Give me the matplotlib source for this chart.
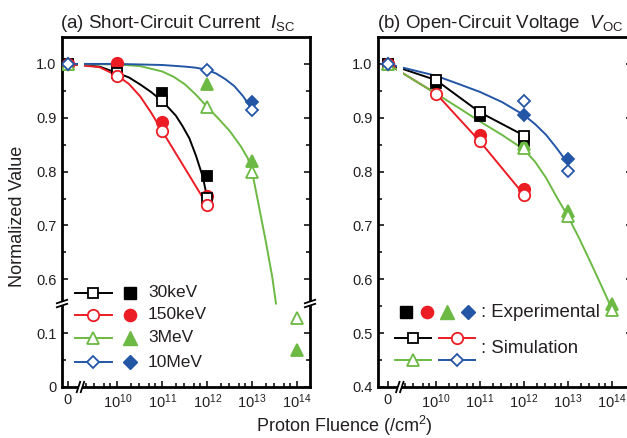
"""
Normalized Isc / Voc vs proton fluence, with broken axes.
"""
import numpy as np
import matplotlib
matplotlib.use('Agg')
import matplotlib.pyplot as plt
import matplotlib.transforms as mtransforms
from matplotlib.patches import Polygon
from matplotlib.ticker import FixedLocator, FixedFormatter

plt.rcParams['font.family'] = ['Liberation Sans', 'DejaVu Sans']
plt.rcParams['mathtext.fontset'] = 'custom'
plt.rcParams['mathtext.rm'] = 'Liberation Sans'
plt.rcParams['mathtext.it'] = 'Liberation Sans:italic'
plt.rcParams['mathtext.bf'] = 'Liberation Sans:bold'

BLACK = '#000000'
RED = '#ec1c24'
GREEN = '#6cb943'
BLUE = '#2456a6'
TXT = '#231f20'

# ---------------- data: (a) short-circuit current ----------------
isc_30kev_x = [0, 1e10, 1e11, 1e12]
isc_30kev_exp = [1.0, 0.990, 0.946, 0.791]
isc_30kev_sim = [1.0, 0.983, 0.931, 0.751]
isc_150kev_x = [0, 1e10, 1e11, 1e12]
isc_150kev_exp = [1.0, 1.001, 0.893, 0.755]
isc_150kev_sim = [1.0, 0.977, 0.875, 0.738]
isc_3mev_x = [0, 1e12, 1e13, 1e14]
isc_3mev_exp = [1.0, 0.963, 0.820, 0.069]
isc_3mev_sim = [1.0, 0.920, 0.799, 0.128]
isc_10mev_exp_x = [0, 1e13]
isc_10mev_exp = [1.0, 0.930]
isc_10mev_sim_x = [0, 1e12, 1e13]
isc_10mev_sim = [1.0, 0.989, 0.915]

# fitted curves (a)
isc_30kev_fit_x = [0, 4e9, 1e10, 1.8e10, 3.2e10, 5.6e10, 1e11, 1.4e11, 2e11,
                   2.8e11, 4e11, 5.6e11, 8e11, 1e12]
isc_30kev_fit = [1.0, 0.995, 0.983, 0.975, 0.962, 0.948, 0.931, 0.918, 0.904,
                 0.885, 0.862, 0.830, 0.790, 0.751]
isc_150kev_fit_x = [0, 4e9, 1e10, 1.8e10, 3.2e10, 5.6e10, 1e11, 3.2e11, 1e12]
isc_150kev_fit = [1.0, 0.994, 0.978, 0.963, 0.940, 0.910, 0.875, 0.806, 0.738]
isc_3mev_fit_x = [0, 1e10, 3.2e10, 1e11, 1.8e11, 3.2e11, 5.6e11, 1e12, 1.8e12,
                  3.2e12, 5.6e12, 8e12, 1e13, 1.4e13, 2e13, 2.8e13, 3.4e13]
isc_3mev_fit = [1.0, 0.999, 0.996, 0.986, 0.976, 0.962, 0.943, 0.920, 0.898,
                0.875, 0.847, 0.825, 0.800, 0.738, 0.672, 0.605, 0.555]
isc_10mev_fit_x = [0, 1e10, 1e11, 3.2e11, 5.6e11, 1e12, 1.6e12, 2.5e12, 4e12,
                   6.3e12, 1e13]
isc_10mev_fit = [1.0, 1.0, 0.998, 0.995, 0.993, 0.989, 0.982, 0.972, 0.959,
                 0.940, 0.915]

# ---------------- data: (b) open-circuit voltage ----------------
voc_30kev_x = [0, 1e10, 1e11, 1e12]
voc_30kev_exp = [1.0, 0.965, 0.904, 0.856]
voc_30kev_sim = [1.0, 0.970, 0.910, 0.867]
voc_150kev_exp_x = [0, 1e11, 1e12]
voc_150kev_exp = [1.0, 0.868, 0.767]
voc_150kev_sim_x = [0, 1e10, 1e11, 1e12]
voc_150kev_sim = [1.0, 0.945, 0.856, 0.757]
voc_3mev_x = [0, 1e12, 1e13, 1e14]
voc_3mev_exp = [1.0, 0.851, 0.727, 0.554]
voc_3mev_sim = [1.0, 0.843, 0.717, 0.543]
voc_10mev_x = [0, 1e12, 1e13]
voc_10mev_exp = [1.0, 0.905, 0.823]
voc_10mev_sim = [1.0, 0.931, 0.802]

voc_3mev_fit_x = [0, 1e10, 3.2e10, 1e11, 3.2e11, 1e12, 1.8e12, 3.2e12, 5.6e12,
                  1e13, 1.8e13, 3.2e13, 5.6e13, 1e14]
voc_3mev_fit = [1.0, 0.945, 0.919, 0.893, 0.868, 0.841, 0.818, 0.788, 0.752,
                0.717, 0.676, 0.633, 0.590, 0.545]
voc_10mev_fit_x = [0, 1e10, 3.2e10, 1e11, 3.2e11, 1e12, 1.8e12, 3.2e12, 5.6e12, 1e13]
voc_10mev_fit = [1.0, 0.978, 0.963, 0.948, 0.929, 0.905, 0.888, 0.868, 0.843, 0.815]

x_ticks = [0, 1e10, 1e11, 1e12, 1e13, 1e14]
x_ticklabels = ['0', r'$10^{10}$', r'$10^{11}$', r'$10^{12}$', r'$10^{13}$', r'$10^{14}$']
isc_yticks = [0, 0.1, 0.6, 0.7, 0.8, 0.9, 1.0]
isc_yticklabels = ['0', '0.1', '0.6', '0.7', '0.8', '0.9', '1.0']
voc_yticks = [0.4, 0.5, 0.6, 0.7, 0.8, 0.9, 1.0]
voc_yticklabels = ['0.4', '0.5', '0.6', '0.7', '0.8', '0.9', '1.0']

energies = ['30keV', '150keV', '3MeV', '10MeV']
colors = [BLACK, RED, GREEN, BLUE]
markers = ['s', 'o', '^', 'D']
msizes = [7.4, 8.2, 9.2, 6.6]

U0 = 8.90        # where fluence 0 sits on the log axis
U_BREAK = 9.2    # x-axis break position
Y_BREAK = 0.155  # y-axis break (transformed units) in panel (a)


def fwd_x(f):
    f = np.asarray(f, dtype=float)
    safe = np.where(f > 0, f, 1.0)
    return np.where(f > 0, np.log10(safe), U0)


def inv_x(u):
    return 10.0 ** np.asarray(u, dtype=float)


def fwd_y(v):
    v = np.asarray(v, dtype=float)
    return np.where(v > 0.35, v - 0.4, v)


def inv_y(p):
    p = np.asarray(p, dtype=float)
    return np.where(p > Y_BREAK, p + 0.4, p)


def break_mark(ax, xa, ya, pts_a, pts_b):
    """Draw a '//' break across a spine at axes point (xa, ya); offsets in pixels."""
    tr = mtransforms.Affine2D() + mtransforms.ScaledTranslation(xa, ya, ax.transAxes)
    poly = Polygon([pts_a[0], pts_a[1], pts_b[1], pts_b[0]], closed=True,
                   facecolor='white', edgecolor='none', transform=tr,
                   clip_on=False, zorder=10)
    ax.add_patch(poly)
    for p in (pts_a, pts_b):
        ax.plot([p[0][0], p[1][0]], [p[0][1], p[1][1]], color=BLACK, lw=1.3,
                transform=tr, clip_on=False, zorder=11, solid_capstyle='butt')


def style_axes(ax, xlo, xhi):
    ax.set_xscale('function', functions=(fwd_x, inv_x))
    ax.set_xlim(10 ** xlo, 10 ** xhi)
    ax.xaxis.set_major_locator(FixedLocator(x_ticks))
    ax.xaxis.set_major_formatter(FixedFormatter(x_ticklabels))
    minors = [s * 10.0 ** d for d in range(9, 14) for s in (2, 3, 5, 7)]
    minors = [m for m in minors if np.log10(m) > U_BREAK + 0.05]
    ax.xaxis.set_minor_locator(FixedLocator(minors))
    for sp in ax.spines.values():
        sp.set_linewidth(2.0)
    ax.tick_params(which='both', direction='in', right=True, top=False,
                   labelsize=10.5, labelcolor=TXT, width=1.1)
    ax.tick_params(which='major', length=4.5, pad=4)
    ax.tick_params(which='minor', length=2.6)
    # white gap in the curves at the x break
    ax.axvspan(10 ** (U_BREAK - 0.08), 10 ** (U_BREAK + 0.06), ymin=0.80, ymax=0.97,
               facecolor='white', edgecolor='none', zorder=2.5)


def plot_series(ax, x, y, color, marker, ms, filled, z):
    ax.plot(x, y, linestyle='none', marker=marker, ms=ms, color=color,
            mfc=color if filled else 'white', mec=color, mew=1.3, zorder=z)


fig = plt.figure(figsize=(6.27, 4.38), dpi=100)
W, H = 627.0, 438.0
ax1 = fig.add_axes([62 / W, 1 - 387 / H, 248 / W, 350 / H])
ax2 = fig.add_axes([378 / W, 1 - 387 / H, 254 / W, 350 / H])

# ---------------- (a) ----------------
ax1.set_yscale('function', functions=(fwd_y, inv_y))
for fx, fy, c in [(isc_30kev_fit_x, isc_30kev_fit, BLACK),
                  (isc_150kev_fit_x, isc_150kev_fit, RED),
                  (isc_3mev_fit_x, isc_3mev_fit, GREEN),
                  (isc_10mev_fit_x, isc_10mev_fit, BLUE)]:
    ax1.plot(fx, fy, color=c, lw=1.4, zorder=2, solid_joinstyle='round')

isc_sets = [(isc_30kev_x, isc_30kev_exp, isc_30kev_x, isc_30kev_sim),
            (isc_150kev_x, isc_150kev_exp, isc_150kev_x, isc_150kev_sim),
            (isc_3mev_x, isc_3mev_exp, isc_3mev_x, isc_3mev_sim),
            (isc_10mev_exp_x, isc_10mev_exp, isc_10mev_sim_x, isc_10mev_sim)]
for i, (ex, ey, sx, sy) in enumerate(isc_sets):
    plot_series(ax1, ex, ey, colors[i], markers[i], msizes[i], True, 3 + i * 0.1)
    plot_series(ax1, sx, sy, colors[i], markers[i], msizes[i], False, 4 + i * 0.1)

ax1.set_ylim(0, 1.05)
ax1.yaxis.set_major_locator(FixedLocator(isc_yticks))
ax1.yaxis.set_major_formatter(FixedFormatter(isc_yticklabels))
ax1.yaxis.set_minor_locator(FixedLocator([0.05, 0.65, 0.75, 0.85, 0.95]))
style_axes(ax1, 8.767, 14.289)

# legend (a)
rows = [0.269, 0.206, 0.140, 0.071]
for i, name in enumerate(energies):
    yy = rows[i]
    ax1.plot([0.052, 0.202], [yy, yy], color=colors[i], lw=1.4,
             transform=ax1.transAxes, zorder=5)
    ax1.plot([0.125], [yy], marker=markers[i], ms=msizes[i], color=colors[i],
             mfc='white', mec=colors[i], mew=1.3, transform=ax1.transAxes, zorder=6)
    ax1.plot([0.276], [yy], marker=markers[i], ms=msizes[i] + 0.6, color=colors[i],
             transform=ax1.transAxes, zorder=6, linestyle='none')
    ax1.text(0.347, yy, name, transform=ax1.transAxes, fontsize=12.5,
             va='center', ha='left', color=TXT)

# ---------------- (b) ----------------
ax2.plot(voc_30kev_x, voc_30kev_sim, color=BLACK, lw=1.4, zorder=2)
ax2.plot(voc_150kev_sim_x, voc_150kev_sim, color=RED, lw=1.4, zorder=2)
ax2.plot(voc_3mev_fit_x, voc_3mev_fit, color=GREEN, lw=1.4, zorder=2,
         solid_joinstyle='round')
ax2.plot(voc_10mev_fit_x, voc_10mev_fit, color=BLUE, lw=1.4, zorder=2,
         solid_joinstyle='round')

voc_sets = [(voc_30kev_x, voc_30kev_exp, voc_30kev_x, voc_30kev_sim),
            (voc_150kev_exp_x, voc_150kev_exp, voc_150kev_sim_x, voc_150kev_sim),
            (voc_3mev_x, voc_3mev_exp, voc_3mev_x, voc_3mev_sim),
            (voc_10mev_x, voc_10mev_exp, voc_10mev_x, voc_10mev_sim)]
for i, (ex, ey, sx, sy) in enumerate(voc_sets):
    plot_series(ax2, ex, ey, colors[i], markers[i], msizes[i], True, 3 + i * 0.1)
    plot_series(ax2, sx, sy, colors[i], markers[i], msizes[i], False, 4 + i * 0.1)

ax2.set_ylim(0.4, 1.05)
ax2.yaxis.set_major_locator(FixedLocator(voc_yticks))
ax2.yaxis.set_major_formatter(FixedFormatter(voc_yticklabels))
ax2.yaxis.set_minor_locator(FixedLocator([0.45, 0.55, 0.65, 0.75, 0.85, 0.95]))
style_axes(ax2, 8.682, 14.455)

# legend (b)
ax_w = 254.0
def fx2(px):
    return (px - 378) / ax_w

for i in range(4):
    ax2.plot([fx2(406 + 20.5 * i)], [0.214], marker=markers[i], ms=msizes[i] + 0.6,
             color=colors[i], transform=ax2.transAxes, zorder=6, linestyle='none')
ax2.text(fx2(481), 0.214, ': Experimental', transform=ax2.transAxes, fontsize=13.4,
         va='center', ha='left', color=TXT)
sim_pos = [(413, 0.140), (457, 0.140), (413, 0.077), (457, 0.077)]
for i, (px, yy) in enumerate(sim_pos):
    ax2.plot([fx2(px - 18), fx2(px + 18)], [yy, yy], color=colors[i], lw=1.4,
             transform=ax2.transAxes, zorder=5)
    ax2.plot([fx2(px)], [yy], marker=markers[i], ms=msizes[i], color=colors[i],
             mfc='white', mec=colors[i], mew=1.3, transform=ax2.transAxes, zorder=6)
ax2.text(fx2(481), 0.111, ': Simulation', transform=ax2.transAxes, fontsize=13.4,
         va='center', ha='left', color=TXT)

# ---------------- axis breaks ----------------
fig.canvas.draw()
for ax in (ax1, ax2):
    xa = ax.transAxes.inverted().transform(ax.transData.transform((10 ** U_BREAK, 1.0)))[0]
    break_mark(ax, xa, 0.0, [(-5, -6), (-1, 6)], [(-1, -6), (3, 6)])
ya = Y_BREAK / fwd_y(1.05)
for xa in (0.0, 1.0):
    break_mark(ax1, xa, float(ya), [(-6, -4), (6, 0)], [(-6, 0), (6, 4)])

# ---------------- titles and labels ----------------
fig.text(60 / W, 1 - 28 / H, r'(a) Short-Circuit Current  $I_{\mathrm{SC}}$',
         fontsize=13.5, color=TXT, va='baseline', ha='left')
fig.text(377 / W, 1 - 28 / H, r'(b) Open-Circuit Voltage  $V_{\mathrm{OC}}$',
         fontsize=13.5, color=TXT, va='baseline', ha='left')
fig.text(18 / W, 1 - 216 / H, 'Normalized Value', rotation=90, fontsize=13,
         color=TXT, va='center', ha='center')
fig.text(344 / W, 1 - 426 / H, r'Proton Fluence (/cm$^{2}$)', fontsize=13,
         color=TXT, va='center', ha='center')

fig.savefig('out.png', dpi=100)
